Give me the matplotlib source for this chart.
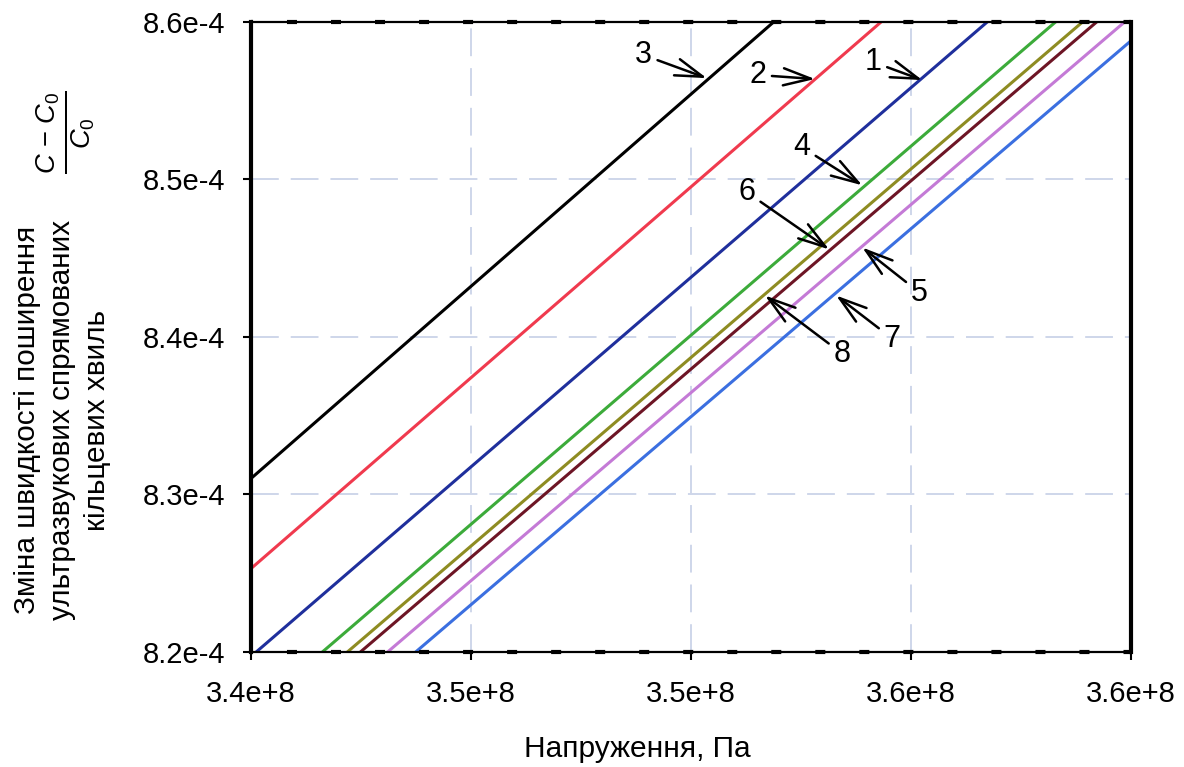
import matplotlib
matplotlib.use("Agg")
import matplotlib.pyplot as plt

plt.rcParams["font.family"] = ["Liberation Sans", "DejaVu Sans"]
plt.rcParams["lines.scale_dashes"] = False
plt.rcParams["mathtext.fontset"] = "custom"
plt.rcParams["mathtext.it"] = "Liberation Sans:italic"
plt.rcParams["mathtext.rm"] = "Liberation Sans"

# Stress range (Pa) and the value of (C - C0)/C0 at both ends, per curve.
# Curves are straight, so two values per curve are enough.
X_RANGE = [3.40e8, 3.60e8]
curve_ids = ["3", "2", "1", "4", "6", "8", "5", "7"]
y_left = [8.3097e-4, 8.2525e-4, 8.1967e-4, 8.1606e-4,
          8.1471e-4, 8.1401e-4, 8.1254e-4, 8.1102e-4]
y_right = [8.7980e-4, 8.7375e-4, 8.6785e-4, 8.6410e-4,
           8.6262e-4, 8.6185e-4, 8.6033e-4, 8.5879e-4]
colors = ["#000000", "#f03a4e", "#1f2f9c", "#3cab3a",
          "#8e8c22", "#6d1525", "#c47ad6", "#3b6fe0"]

x_ticks = [3.40e8, 3.45e8, 3.50e8, 3.55e8, 3.60e8]
x_ticklabels = ["3.4e+8", "3.5e+8", "3.5e+8", "3.6e+8", "3.6e+8"]
y_ticks = [8.2e-4, 8.3e-4, 8.4e-4, 8.5e-4, 8.6e-4]
y_ticklabels = ["8.2e-4", "8.3e-4", "8.4e-4", "8.5e-4", "8.6e-4"]

# label text position / arrow tip, in axes fractions
label_text = [(0.4465, 0.9470), (0.5763, 0.9154), (0.7073, 0.9359),
              (0.6264, 0.8007), (0.5638, 0.7292), (0.6720, 0.4731),
              (0.7597, 0.5701), (0.7289, 0.4970)]
label_tip = [(0.5182, 0.9104), (0.6412, 0.9090), (0.7631, 0.9073),
             (0.6948, 0.7403), (0.6572, 0.6385), (0.5843, 0.5654),
             (0.6948, 0.6416), (0.6651, 0.5654)]

TICK_FS = 21
LAB_FS = 22

fig = plt.figure(figsize=(11.84, 7.67), dpi=100)
ax = fig.add_axes([250.5 / 1184, 1 - 651.7 / 767, 880.5 / 1184, 630 / 767])

for yl, yr, c in zip(y_left, y_right, colors):
    ax.plot(X_RANGE, [yl, yr], color=c, lw=2.2, solid_capstyle="butt")

ax.set_xlim(*X_RANGE)
ax.set_ylim(8.2e-4, 8.6e-4)
ax.set_xticks(x_ticks)
ax.set_xticklabels(x_ticklabels, fontsize=TICK_FS)
ax.set_yticks(y_ticks)
ax.set_yticklabels(y_ticklabels, fontsize=TICK_FS)
ax.tick_params(axis="x", direction="out", length=5.5, width=1.5, pad=15)
ax.tick_params(axis="y", direction="out", length=5.5, width=1.5, pad=13)

ax.grid(True, color="#c6cfe6", lw=1.2, linestyle=(0, (20, 8.6)))
ax.set_axisbelow(True)

for side in ["left", "right"]:
    ax.spines[side].set_linewidth(3.0)
for side in ["top", "bottom"]:
    ax.spines[side].set_linewidth(1.6)

# the thick dash marks sitting on the top / bottom frame
for yy in [0.0, 1.0]:
    ax.plot([0, 1], [yy, yy], transform=ax.transAxes, color="black",
            lw=3.0, linestyle=(5.8, (7.2, 24.5)), clip_on=False)

for lab, (tx, ty), (hx, hy) in zip(curve_ids, label_text, label_tip):
    ax.annotate(lab, xy=(hx, hy), xycoords="axes fraction",
                xytext=(tx, ty), textcoords="axes fraction",
                fontsize=LAB_FS, ha="center", va="center",
                arrowprops=dict(arrowstyle="->,head_length=0.9,head_width=0.28",
                                color="black", lw=1.8, mutation_scale=22,
                                shrinkA=2, shrinkB=0))

fig.text(637 / 1184, 1 - 757 / 767, "Напруження, Па", fontsize=21.5,
         ha="center", va="baseline")
fig.text(62 / 1184, 1 - 420 / 767,
         "Зміна швидкості поширення\nультразвукових спрямованих\nкільцевих хвиль",
         fontsize=21.4, rotation=90, ha="center", va="center",
         multialignment="center", linespacing=1.32)
fig.text(66 / 1184, 1 - 132 / 767, r"$\frac{C\ \mathrm{-}\ C_0}{C_0}$",
         fontsize=28, rotation=90, ha="center", va="center")

fig.savefig("out.png", dpi=100)
